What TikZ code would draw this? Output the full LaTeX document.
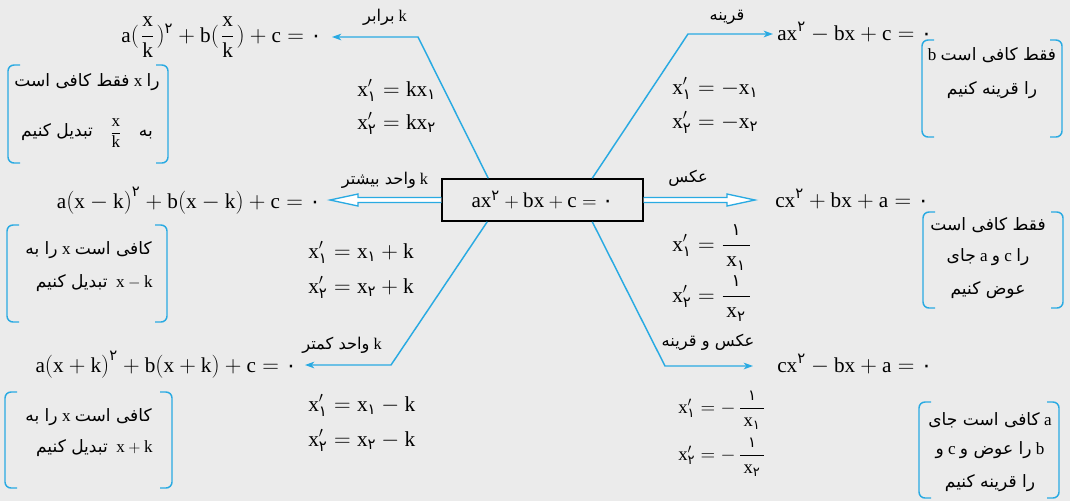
\documentclass[tikz,border=0pt]{standalone}
\usepackage{amsmath}
\usepackage{graphicx}
\usepackage{fontspec}
\setmainfont{Liberation Serif}
\newfontfamily\fa[Script=Arabic]{DejaVu Sans}
\TeXXeTstate=1
\usetikzlibrary{calc,arrows.meta}
\definecolor{bl}{RGB}{41,170,226}
\definecolor{bg}{RGB}{235,235,235}
\newcommand{\fat}[1]{{\fa\beginR #1\endR}}
\newcommand{\pdig}[1]{\text{\fa #1}}
\newcommand{\pnum}[1]{\text{\fa\scalebox{0.8}{#1}}}
\newcommand{\rr}[1]{\mathrm{#1}}
\newcommand{\brk}[4]{%
  \draw[brk] (#1+12,#2) -- (#1,#2) -- (#1,#4) -- (#1+12,#4);
  \draw[brk] (#3-12,#2) -- (#3,#2) -- (#3,#4) -- (#3-12,#4);}
\begin{document}
\begin{tikzpicture}[x=0.75pt,y=-0.75pt,
  eq/.style={inner sep=0pt, font=\fontsize{15.9}{19}\selectfont},
  root/.style={inner sep=0pt, anchor=base west, font=\fontsize{16}{19}\selectfont},
  rootsm/.style={inner sep=0pt, anchor=base west, font=\fontsize{14}{17}\selectfont},
  lbl/.style={inner sep=0pt, font=\fontsize{12.2}{14}\selectfont},
  note/.style={inner sep=0pt, font=\fontsize{12.8}{15}\selectfont},
  arr/.style={draw=bl, line width=1.1pt, -{Stealth[length=7pt,width=5pt,inset=2pt]}},
  dbl/.style={draw=bl, line width=1pt, fill=white, line join=miter},
  brk/.style={draw=bl, line width=1.1pt, rounded corners=4.5pt},
  mainbox/.style={draw=black, line width=1.1pt, minimum width=150.75pt, minimum height=31.5pt, inner sep=0pt, font=\fontsize{15.8}{19}\selectfont}]
\fill[bg] (0,0) rectangle (1070,501);
\useasboundingbox (0,0) rectangle (1070,501);

% centre
\node[mainbox] (c) at (542.5,200) {$\rr{ax}^{\pdig{۲}}+\rr{bx}+\rr{c}=\pdig{۰}$};

% equations
\node[eq, anchor=base east] (eqTL) at (322,42) {$\rr{a}(\mkern1.5mu\dfrac{\rr{x}}{\rr{k}}\mkern1.5mu)^{\pdig{۲}}+\rr{b}(\mkern1.5mu\dfrac{\rr{x}}{\rr{k}}\mkern1.5mu)+\rr{c}=\pdig{۰}$};
\node[eq, anchor=base west] (eqTR) at (777,40) {$\rr{ax}^{\pdig{۲}}-\rr{bx}+\rr{c}=\pdig{۰}$};
\node[eq, anchor=base east] (eqML) at (321,208) {$\rr{a(x-k)}^{\pdig{۲}}+\rr{b(x-k)}+\rr{c}=\pdig{۰}$};
\node[eq, anchor=base west] (eqMR) at (775,207) {$\rr{cx}^{\pdig{۲}}+\rr{bx}+\rr{a}=\pdig{۰}$};
\node[eq, anchor=base east] (eqBL) at (297,372) {$\rr{a(x+k)}^{\pdig{۲}}+\rr{b(x+k)}+\rr{c}=\pdig{۰}$};
\node[eq, anchor=base west] (eqBR) at (777,372) {$\rr{cx}^{\pdig{۲}}-\rr{bx}+\rr{a}=\pdig{۰}$};

% corners
\coordinate (kTL) at (418,37);
\coordinate (kTR) at (688,34);
\coordinate (kBL) at (391,365);
\coordinate (kBR) at (665,366);

% thin connectors
\draw[arr, shorten >=7.5pt] ($(c.north west)+(47,0)$) -- (kTL) -- (kTL -| eqTL.east);
\draw[arr, shorten >=3pt] ($(c.north west)+(151,0)$) -- (kTR) -- (kTR -| eqTR.west);
\draw[arr, shorten >=6pt] ($(c.south west)+(46,0)$) -- (kBL) -- (kBL -| eqBL.east);
\draw[arr, shorten >=18pt] ($(c.south west)+(151,0)$) -- (kBR) -- (kBR -| eqBR.west);

% double arrows
\path ($(eqML.east)+(9,0)$) coordinate (t0);
\coordinate (tipL) at (t0 |- c.west);
\path ($(eqMR.west)+(-20,0)$) coordinate (t1);
\coordinate (tipR) at (t1 |- c.east);
\draw[dbl] ($(c.west)+(0,-2.5)$) -- ($(tipL)+(28,-2.5)$) -- ($(tipL)+(28,-6)$) -- (tipL) -- ($(tipL)+(28,6)$) -- ($(tipL)+(28,2.5)$) -- ($(c.west)+(0,2.5)$);
\draw[dbl] ($(c.east)+(0,-2.5)$) -- ($(tipR)+(-28,-2.5)$) -- ($(tipR)+(-28,-6)$) -- (tipR) -- ($(tipR)+(-28,6)$) -- ($(tipR)+(-28,2.5)$) -- ($(c.east)+(0,2.5)$);

% labels
\node[lbl] (lTL) at (385,17) {\fat{برابر} k};
\node[lbl] (lTR) at (727,17) {\fat{قرینه}};
\node[lbl] (lML) at (385,180) {\fat{واحد بیشتر} k};
\node[lbl] (lMR) at (688,178) {\fat{عکس}};
\node[lbl] (lBL) at (342,345) {\fat{واحد کمتر} k};
\node[lbl] (lBR) at (708,342) {\fat{عکس و قرینه}};

% roots
\node[root] (rTL1) at (357,96) {$\rr{x}'_{\pdig{۱}}=\rr{kx}_{\pdig{۱}}$};
\node[root] (rTL2) at (357,129) {$\rr{x}'_{\pdig{۲}}=\rr{kx}_{\pdig{۲}}$};
\node[root] (rTR1) at (672,94) {$\rr{x}'_{\pdig{۱}}=-\rr{x}_{\pdig{۱}}$};
\node[root] (rTR2) at (672,128) {$\rr{x}'_{\pdig{۲}}=-\rr{x}_{\pdig{۲}}$};
\node[root] (rML1) at (308,258) {$\rr{x}'_{\pdig{۱}}=\rr{x}_{\pdig{۱}}+\rr{k}$};
\node[root] (rML2) at (308,293) {$\rr{x}'_{\pdig{۲}}=\rr{x}_{\pdig{۲}}+\rr{k}$};
\node[root] (rMR1) at (672,251) {$\rr{x}'_{\pdig{۱}}=\dfrac{\pnum{۱}}{\mkern3mu\rr{x}_{\pdig{۱}}\mkern3mu}$};
\node[root] (rMR2) at (672,302) {$\rr{x}'_{\pdig{۲}}=\dfrac{\pnum{۱}}{\mkern3mu\rr{x}_{\pdig{۲}}\mkern3mu}$};
\node[root] (rBL1) at (308,411) {$\rr{x}'_{\pdig{۱}}=\rr{x}_{\pdig{۱}}-\rr{k}$};
\node[root] (rBL2) at (308,446) {$\rr{x}'_{\pdig{۲}}=\rr{x}_{\pdig{۲}}-\rr{k}$};
\node[rootsm] (rBR1) at (678,413) {$\rr{x}'_{\pdig{۱}}=-\,\dfrac{\pnum{۱}}{\mkern3mu\rr{x}_{\pdig{۱}}\mkern3mu}$};
\node[rootsm] (rBR2) at (678,460) {$\rr{x}'_{\pdig{۲}}=-\,\dfrac{\pnum{۱}}{\mkern3mu\rr{x}_{\pdig{۲}}\mkern3mu}$};

% note brackets
\brk{8}{65}{168}{163}
\brk{922}{40}{1062}{137}
\brk{7}{225}{167}{322}
\brk{923}{212}{1063}{308}
\brk{5}{392}{172}{488}
\brk{919}{402}{1059}{498}

% note texts
\node[note] (n1a) at (87,82) {\fat{فقط کافی است} x \fat{را}};
\node[note] (n1b) at (87,133) {\fat{تبدیل کنیم}\quad $\dfrac{\rr{x}}{\rr{k}}$\quad \fat{به}};
\node[note] (n2a) at (992,55) {b \fat{فقط کافی است}};
\node[note] (n2b) at (992,90) {\fat{را قرینه کنیم}};
\node[note, anchor=east] (n3a) at (152,250) {\fat{را به} x \fat{کافی است}};
\node[note, anchor=east] (n3b) at (153,283) {\fat{تبدیل کنیم}\ \ $\rr{x}-\rr{k}$};
\node[note] (n4a) at (988,225) {\fat{فقط کافی است}};
\node[note] (n4b) at (988,257) {\fat{جای} a \fat{و} c \fat{را}};
\node[note] (n4c) at (988,290) {\fat{عوض کنیم}};
\node[note, anchor=east] (n5a) at (152,417) {\fat{را به} x \fat{کافی است}};
\node[note, anchor=east] (n5b) at (153,448) {\fat{تبدیل کنیم}\ \ $\rr{x}+\rr{k}$};
\node[note] (n6a) at (990,420) {\fat{کافی است جای} a};
\node[note] (n6b) at (990,450) {\fat{و} c \fat{را عوض و} b};
\node[note] (n6c) at (990,483) {\fat{را قرینه کنیم}};
\end{tikzpicture}
\end{document}
